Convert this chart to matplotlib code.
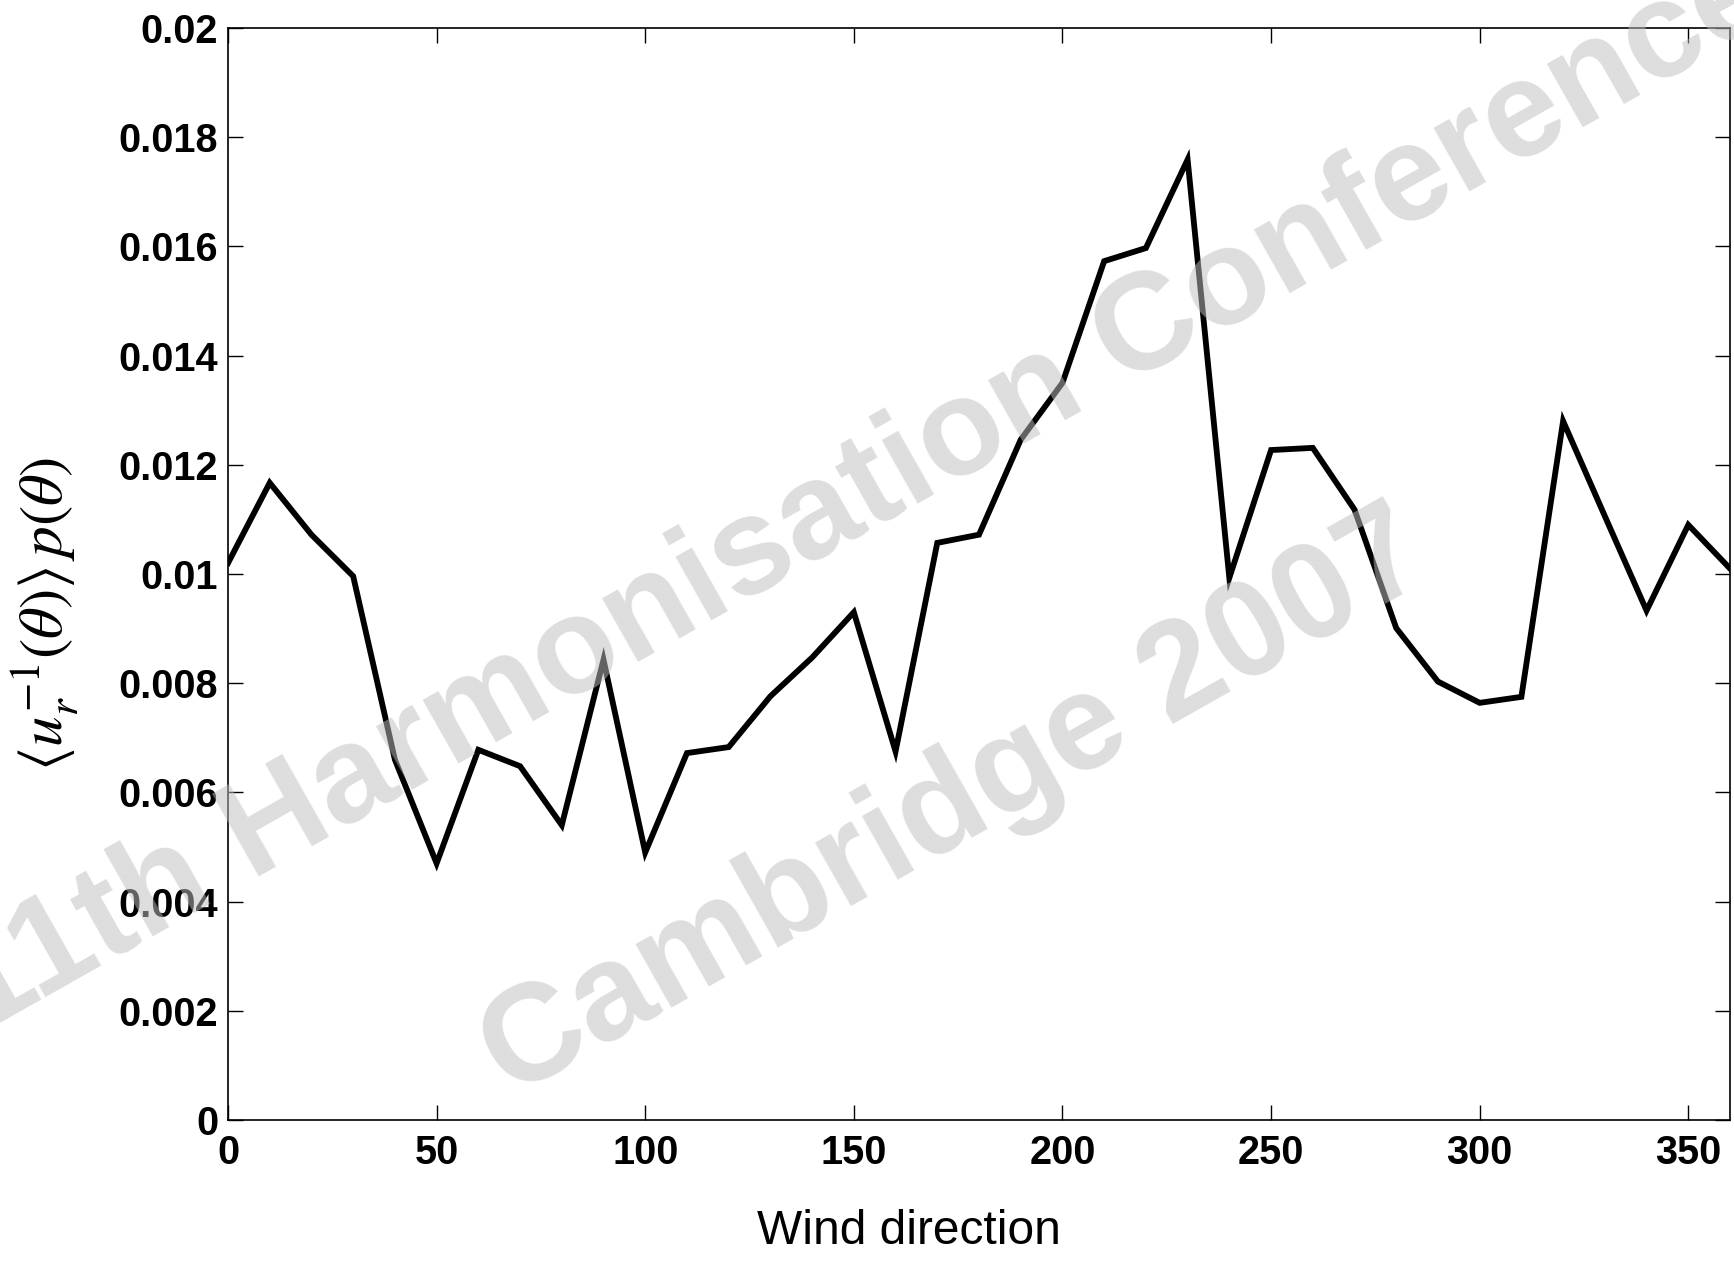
import matplotlib
matplotlib.use("Agg")
import matplotlib.pyplot as plt
from matplotlib.font_manager import FontProperties

# Wind direction bins (degrees) and the weighted inverse-speed distribution
direction = [0, 10, 20, 30, 40, 50, 60, 70, 80, 90, 100, 110, 120, 130, 140, 150,
             160, 170, 180, 190, 200, 210, 220, 230, 240, 250, 260, 270, 280, 290,
             300, 310, 320, 330, 340, 350, 360]
weighted_inv_speed = [0.0102, 0.01167, 0.01072, 0.00996, 0.0066, 0.00470, 0.00678,
                      0.00648, 0.00540, 0.00843, 0.00490, 0.00672, 0.00683, 0.00776,
                      0.00847, 0.00930, 0.00675, 0.01057, 0.01072, 0.01246, 0.01350,
                      0.01573, 0.01597, 0.01759, 0.00993, 0.01227, 0.01231, 0.01118,
                      0.00901, 0.00803, 0.00764, 0.00775, 0.01280, 0.01106, 0.00933,
                      0.01090, 0.01010]

x_ticks = [0, 50, 100, 150, 200, 250, 300, 350]
y_ticks = [0, 0.002, 0.004, 0.006, 0.008, 0.01, 0.012, 0.014, 0.016, 0.018, 0.02]
y_tick_labels = ["0", "0.002", "0.004", "0.006", "0.008", "0.01", "0.012",
                 "0.014", "0.016", "0.018", "0.02"]

plt.rcParams["mathtext.fontset"] = "stix"

W, H = 1734, 1262
fig = plt.figure(figsize=(W / 100, H / 100), dpi=100)
ax = fig.add_axes([228 / W, 1 - 1120 / H, (1730 - 228) / W, (1120 - 28) / H])

ax.plot(direction, weighted_inv_speed, color="black", lw=4.2, solid_joinstyle="miter")

ax.set_xlim(0, 360)
ax.set_ylim(0, 0.02)
ax.set_xticks(x_ticks)
ax.set_xticklabels([str(t) for t in x_ticks])
ax.set_yticks(y_ticks)
ax.set_yticklabels(y_tick_labels)

tick_fp = FontProperties(family="Liberation Sans", weight="bold", size=28.5)
for lab in ax.get_xticklabels() + ax.get_yticklabels():
    lab.set_fontproperties(tick_fp)

ax.tick_params(axis="both", direction="in", length=11, width=1.0,
               top=True, right=True, color="black")
ax.tick_params(axis="x", pad=10)
ax.tick_params(axis="y", pad=7)
for sp in ax.spines.values():
    sp.set_linewidth(1.2)

fig.text(909 / W, 1 - 1231 / H, "Wind direction", ha="center", va="center",
         family="Liberation Sans", fontsize=34.5)
fig.text(45 / W, 1 - 614 / H,
         r"$\langle u_r^{-1}(\theta)\rangle\, p(\theta)$",
         ha="center", va="center", rotation=90, fontsize=44)

# Conference watermark overlaid on the plot
wm = dict(ha="center", va="center", rotation=29.5, rotation_mode="anchor",
          family="Liberation Sans", weight="bold", fontsize=99,
          color=(0.75, 0.75, 0.75), alpha=0.52, zorder=10)
fig.text(862 / W, 1 - 494 / H, "11th Harmonisation Conference", **wm)
fig.text(956 / W, 1 - 806 / H, "Cambridge 2007", **wm)

fig.savefig("out.png", dpi=100)
